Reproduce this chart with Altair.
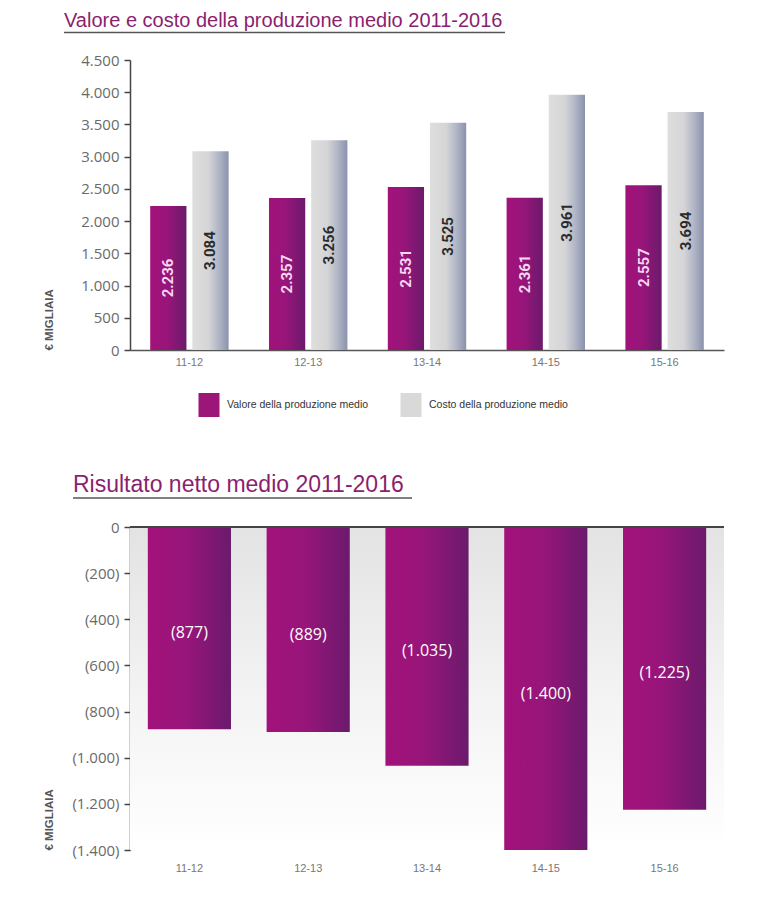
import altair as alt
import pandas as pd

# --- data ---------------------------------------------------------------
periodi = ["11-12", "12-13", "13-14", "14-15", "15-16"]
valore_produzione = [2236, 2357, 2531, 2361, 2557]
costo_produzione = [3084, 3256, 3525, 3961, 3694]
risultato_netto = [-877, -889, -1035, -1400, -1225]
serie = ["Valore della produzione medio", "Costo della produzione medio"]
colori_legenda = ["#9C1578", "#D9D9D9"]
titolo_sup = "Valore e costo della produzione medio 2011-2016"
titolo_inf = "Risultato netto medio 2011-2016"
unita = "€ MIGLIAIA"
tick_sup = [0, 500, 1000, 1500, 2000, 2500, 3000, 3500, 4000, 4500]
tick_inf = [0, -200, -400, -600, -800, -1000, -1200, -1400]

# --- styling -------------------------------------------------------------
W = 594
H_SUP = 290
H_INF = 323
TITLE_COLOR = "#8B1F6F"
AXIS_COLOR = "#444444"
LABEL_COLOR = "#6A6A6A"
FONT_AX = "Open Sans"
FONT_TXT = "Liberation Sans"


def hgrad(stops):
    return alt.Gradient(
        gradient="linear", x1=0, x2=1, y1=0, y2=0,
        stops=[alt.GradientStop(color=c, offset=o) for o, c in stops],
    )


PURPLE = hgrad([(0, "#A2127B"), (0.45, "#98157A"), (1, "#6B1A6C")])
GREY = hgrad([(0, "#DEDEDE"), (0.45, "#D5D5D7"), (0.75, "#AEB3C4"), (1, "#8A92AC")])
BACKDROP = alt.Gradient(
    gradient="linear", x1=0, x2=0, y1=0, y2=1,
    stops=[
        alt.GradientStop(color="#E3E3E3", offset=0),
        alt.GradientStop(color="#F4F4F4", offset=0.55),
        alt.GradientStop(color="#FFFFFF", offset=1),
    ],
)

it_fmt = "replace(format({v}, ',d'), ',', '.')"


def y_axis(values, label_expr, height):
    return alt.Axis(
        values=values, labelExpr=label_expr,
        labelOverlap=False, labelFlush=False,
        grid=False, tickSize=6, tickWidth=1.5, tickColor=AXIS_COLOR,
        domainColor=AXIS_COLOR, domainWidth=1.5, labelFont=FONT_AX,
        labelFontSize=15, labelColor=LABEL_COLOR, labelPadding=5,
        title=unita, titleAngle=270, titleFontSize=11.5, titleFontWeight="bold",
        titleFont=FONT_TXT, titleColor="#555555", titleX=-81, titleY=height,
        titleAlign="left", titleBaseline="middle",
    )


# --- top chart: value vs cost ---------------------------------------------
df_sup = pd.DataFrame({
    "periodo": periodi * 2,
    "serie": [serie[0]] * len(periodi) + [serie[1]] * len(periodi),
    "valore": valore_produzione + costo_produzione,
})

base_sup = alt.Chart(df_sup).transform_calculate(
    mid="datum.valore / 2",
    etichetta=it_fmt.format(v="datum.valore"),
)

x_sup = alt.X(
    "periodo:N",
    scale=alt.Scale(domain=periodi, paddingInner=0.34, paddingOuter=0.17),
    axis=alt.Axis(
        title=None, labelAngle=0, ticks=False, domainColor="#555555",
        domainWidth=1.5, labelFont=FONT_TXT, labelFontSize=11,
        labelColor="#777777", labelPadding=6,
    ),
)
xo_sup = alt.XOffset(
    "serie:N", scale=alt.Scale(domain=serie, paddingInner=0.14, paddingOuter=0)
)
scale_sup = alt.Scale(domain=[0, 4500], nice=False)
axis_sup = y_axis(tick_sup, it_fmt.format(v="datum.value"), H_SUP)
y_sup = alt.Y("valore:Q", scale=scale_sup, axis=axis_sup)
y_mid_sup = alt.Y("mid:Q", scale=scale_sup, axis=axis_sup)

bars_v = base_sup.transform_filter(alt.datum.serie == serie[0]).mark_bar(
    color=PURPLE).encode(x=x_sup, xOffset=xo_sup, y=y_sup)
bars_c = base_sup.transform_filter(alt.datum.serie == serie[1]).mark_bar(
    color=GREY).encode(x=x_sup, xOffset=xo_sup, y=y_sup)

legend_layer = base_sup.mark_square(opacity=0).encode(
    x=x_sup, xOffset=xo_sup, y=y_sup,
    color=alt.Color(
        "serie:N",
        scale=alt.Scale(domain=serie, range=colori_legenda),
        legend=alt.Legend(
            title=None, orient="none", legendX=67, legendY=333,
            direction="horizontal",
            symbolType="M-0.875,-1H0.875V1H-0.875Z", symbolSize=576,
            symbolOpacity=1, symbolStrokeWidth=0,
            labelFont=FONT_TXT, labelFontSize=10.5, labelColor="#333333",
            labelOffset=6, columnPadding=30, labelLimit=300,
        ),
    ),
)

lab_v = base_sup.transform_filter(alt.datum.serie == serie[0]).mark_text(
    angle=270, font="Roboto", fontSize=15, fontWeight="bold", color="#F7D8F1"
).encode(x=x_sup, xOffset=xo_sup, y=y_mid_sup, text="etichetta:N")
lab_c = base_sup.transform_filter(alt.datum.serie == serie[1]).mark_text(
    angle=270, font="Roboto", fontSize=15, fontWeight="bold", color="#2A2A2A"
).encode(x=x_sup, xOffset=xo_sup, y=y_mid_sup, text="etichetta:N")

tit_sup_df = pd.DataFrame({"t": [titolo_sup]})
head_sup = alt.Chart(tit_sup_df).mark_text(
    align="left", baseline="alphabetic", font=FONT_TXT, fontSize=20,
    color=TITLE_COLOR,
).encode(x=alt.value(-66), y=alt.value(-33), text="t:N")
rule_sup = alt.Chart(tit_sup_df).mark_rule(color="#555555", strokeWidth=1.5).encode(
    x=alt.value(-66), x2=alt.value(375), y=alt.value(-27.5))

top = alt.layer(
    bars_v, bars_c, legend_layer, lab_v, lab_c, head_sup, rule_sup
).properties(width=W, height=H_SUP)

# --- bottom chart: net result ---------------------------------------------
df_inf = pd.DataFrame({"periodo": periodi, "risultato": risultato_netto})
base_inf = alt.Chart(df_inf).transform_calculate(
    mid="datum.risultato / 2",
    etichetta="'(' + " + it_fmt.format(v="-datum.risultato") + " + ')'",
)

x_inf = alt.X(
    "periodo:N",
    scale=alt.Scale(domain=periodi, paddingInner=0.3, paddingOuter=0.15),
    axis=alt.Axis(
        title=None, labelAngle=0, ticks=False, domain=False,
        labelFont=FONT_TXT, labelFontSize=11, labelColor="#777777",
        labelPadding=12,
    ),
)
scale_inf = alt.Scale(domain=[-1400, 0], nice=False)
axis_inf = y_axis(
    tick_inf,
    "datum.value == 0 ? '0' : '(' + " + it_fmt.format(v="-datum.value") + " + ')'",
    H_INF,
)
y_inf = alt.Y("risultato:Q", scale=scale_inf, axis=axis_inf)
y_mid_inf = alt.Y("mid:Q", scale=scale_inf, axis=axis_inf)

tit_inf_df = pd.DataFrame({"t": [titolo_inf]})
backdrop = alt.Chart(tit_inf_df).mark_rect(color=BACKDROP).encode(
    x=alt.value(0), x2=alt.value(W), y=alt.value(0), y2=alt.value(H_INF))
bars_r = base_inf.mark_bar(color=PURPLE).encode(x=x_inf, y=y_inf)
zero = base_inf.mark_rule(color=AXIS_COLOR, strokeWidth=1.5).encode(y=alt.datum(0))
lab_r = base_inf.mark_text(
    font=FONT_AX, fontSize=16, color="#FFFFFF", dy=5
).encode(x=x_inf, y=y_mid_inf, text="etichetta:N")
head_inf = alt.Chart(tit_inf_df).mark_text(
    align="left", baseline="alphabetic", font=FONT_TXT, fontSize=23,
    color=TITLE_COLOR,
).encode(x=alt.value(-57), y=alt.value(-35), text="t:N")
rule_inf = alt.Chart(tit_inf_df).mark_rule(color="#555555", strokeWidth=1.5).encode(
    x=alt.value(-57), x2=alt.value(282), y=alt.value(-29))

bottom = alt.layer(
    backdrop, bars_r, zero, lab_r, head_inf, rule_inf
).properties(width=W, height=H_INF)

chart = alt.vconcat(top, bottom, spacing=107).properties(
    padding={"left": 43, "top": 11, "right": 5, "bottom": 5}
).configure_view(stroke=None)

chart.save("out.html", embed_options={"renderer": "svg", "actions": False})
